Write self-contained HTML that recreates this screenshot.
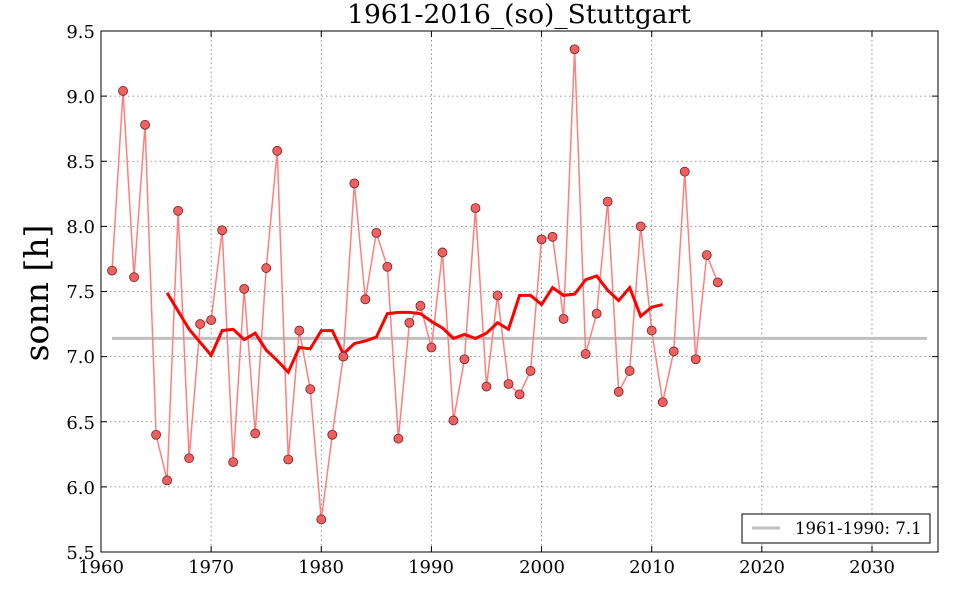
<!DOCTYPE html>
<html><head><meta charset="utf-8"><style>
html,body{margin:0;padding:0;background:#fff;width:960px;height:600px;overflow:hidden}
svg text{font-family:"DejaVu Serif","Liberation Serif",serif;fill:#000}
</style></head><body>
<svg id="s" width="960" height="600" xmlns="http://www.w3.org/2000/svg">
<rect x="0" y="0" width="960" height="600" fill="#fff"/>
<g id="grid" stroke="#777" stroke-width="0.8" stroke-dasharray="1.5,3"></g>
<g id="data"></g>
<rect x="101" y="31" width="837" height="521" fill="none" stroke="#000" stroke-width="1"/>
<g id="ticks" stroke="#000" stroke-width="1"></g>
<g font-size="18" text-anchor="middle">
<text x="101" y="573">1960</text><text x="211" y="573">1970</text><text x="321" y="573">1980</text>
<text x="431" y="573">1990</text><text x="542" y="573">2000</text><text x="652" y="573">2010</text>
<text x="762" y="573">2020</text><text x="872" y="573">2030</text>
</g>
<g font-size="18" text-anchor="end">
<text x="95" y="38">9.5</text><text x="95" y="103">9.0</text><text x="95" y="168">8.5</text>
<text x="95" y="233">8.0</text><text x="95" y="298">7.5</text><text x="95" y="363">7.0</text>
<text x="95" y="429">6.5</text><text x="95" y="494">6.0</text><text x="95" y="559">5.5</text>
</g>
<text x="519" y="23" font-size="26.5" text-anchor="middle">1961-2016_(so)_Stuttgart</text>
<text transform="translate(48,293) rotate(-90)" font-size="33" text-anchor="middle">sonn [h]</text>
<rect x="742" y="514" width="188" height="29" fill="#fff" stroke="#000" stroke-width="1"/>
<line x1="752" y1="528" x2="780" y2="528" stroke="#bfbfbf" stroke-width="3"/>
<text x="795" y="534" font-size="16.5">1961-1990: 7.1</text>
</svg>
<script>
var X=function(y){return 101+(y-1960)*11.014},Y=function(v){return 31+(9.5-v)*130.25};
var ns="http://www.w3.org/2000/svg";
function el(p,t,a){var e=document.createElementNS(ns,t);for(var k in a)e.setAttribute(k,a[k]);p.appendChild(e);return e}
var g=document.getElementById('grid'),tk=document.getElementById('ticks'),d=document.getElementById('data');
for(var yr=1970;yr<=2030;yr+=10)el(g,'line',{x1:X(yr),x2:X(yr),y1:31,y2:552});
for(var v=6;v<=9;v+=0.5)el(g,'line',{x1:101,x2:938,y1:Y(v),y2:Y(v)});
for(var yr=1960;yr<=2030;yr+=10){el(tk,'line',{x1:X(yr),x2:X(yr),y1:552,y2:546});el(tk,'line',{x1:X(yr),x2:X(yr),y1:31,y2:37});}
for(var v=5.5;v<=9.5;v+=0.5){el(tk,'line',{x1:101,x2:107,y1:Y(v),y2:Y(v)});el(tk,'line',{x1:938,x2:932,y1:Y(v),y2:Y(v)});}
var vals=[7.66,9.04,7.61,8.78,6.40,6.05,8.12,6.22,7.25,7.28,7.97,6.19,7.52,6.41,7.68,8.58,6.21,7.20,6.75,5.75,6.40,7.00,8.33,7.44,7.95,7.69,6.37,7.26,7.39,7.07,7.80,6.51,6.98,8.14,6.77,7.47,6.79,6.71,6.89,7.90,7.92,7.29,9.36,7.02,7.33,8.19,6.73,6.89,8.00,7.20,6.65,7.04,8.42,6.98,7.78,7.57];
var ma=[7.49,7.35,7.21,7.11,7.01,7.20,7.21,7.13,7.18,7.05,6.97,6.88,7.07,7.06,7.20,7.20,7.02,7.10,7.12,7.15,7.33,7.34,7.34,7.33,7.27,7.22,7.14,7.17,7.14,7.18,7.26,7.21,7.47,7.47,7.40,7.53,7.47,7.48,7.59,7.62,7.51,7.43,7.53,7.31,7.38,7.40];
el(d,'line',{x1:X(1961),x2:X(2035),y1:Y(7.14),y2:Y(7.14),stroke:'#bfbfbf','stroke-width':3});
el(d,'polyline',{points:vals.map(function(v,i){return X(1961+i)+','+Y(v)}).join(' '),fill:'none',stroke:'#ff7f7f','stroke-width':1.5});
el(d,'polyline',{points:ma.map(function(v,i){return X(1966+i)+','+Y(v)}).join(' '),fill:'none',stroke:'#ff0000','stroke-width':3});
vals.forEach(function(v,i){el(d,'circle',{cx:X(1961+i),cy:Y(v),r:4.5,fill:'#f06060',stroke:'#7a2020','stroke-width':0.8})});
</script>
</body></html>
